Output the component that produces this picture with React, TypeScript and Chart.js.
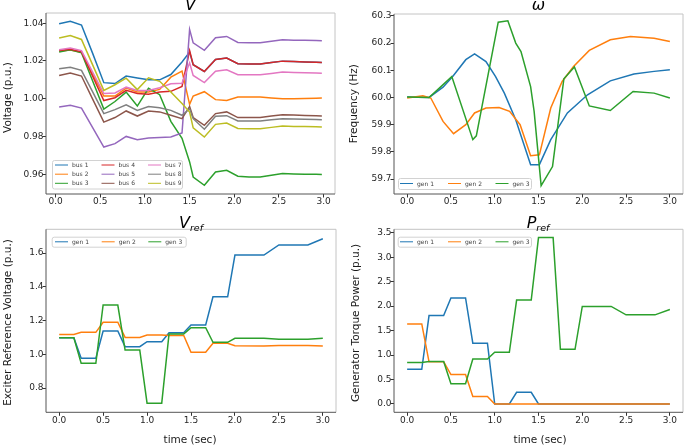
import React, { useEffect, useRef } from 'react';
import { Chart, registerables } from 'chart.js';

Chart.register(...registerables);

// ---------- data ----------
const voltTimes = [0.04, 0.165, 0.29, 0.415, 0.54, 0.665, 0.79, 0.915, 1.04, 1.165, 1.29, 1.415, 1.5, 1.54, 1.665, 1.79, 1.915, 2.04, 2.165, 2.29, 2.415, 2.54, 2.665, 2.79, 2.915, 2.98];
const bus1 = [1.0397, 1.041, 1.039, 1.024, 1.0085, 1.008, 1.012, 1.011, 1.01, 1.01, 1.0128, 1.0194, 1.0247, 1.018, 1.0144, 1.0208, 1.0215, 1.0185, 1.0184, 1.0184, 1.0192, 1.0199, 1.0197, 1.0195, 1.0193, 1.0192];
const bus2 = [1.0252, 1.0258, 1.0246, 1.013, 1.0014, 1.0014, 1.0056, 1.0035, 1.0035, 1.0049, 1.0114, 1.0146, 0.997, 1.0014, 1.0037, 0.9995, 0.9991, 1.0009, 1.0009, 1.0009, 1.0004, 1.0, 1.0, 1.0001, 1.0002, 1.0003];
const bus3 = [1.0247, 1.0259, 1.0243, 1.0094, 0.9945, 0.9985, 1.0035, 0.9961, 1.0055, 1.0021, 0.988, 0.979, 0.9665, 0.9585, 0.9541, 0.9612, 0.9621, 0.9589, 0.9585, 0.9585, 0.9594, 0.9603, 0.9601, 0.96, 0.9599, 0.9598];
const bus4 = [1.0255, 1.0262, 1.0248, 1.0119, 0.999, 1.0005, 1.0044, 1.0027, 1.0023, 1.0035, 1.0039, 1.0065, 1.0255, 1.018, 1.0144, 1.0208, 1.0215, 1.0185, 1.0184, 1.0184, 1.0192, 1.0199, 1.0197, 1.0195, 1.0193, 1.0192];
const bus5 = [0.9956, 0.9965, 0.995, 0.9847, 0.9744, 0.9762, 0.98, 0.9783, 0.9792, 0.9794, 0.9797, 0.9818, 1.0367, 1.0296, 1.0256, 1.0323, 1.033, 1.0298, 1.0296, 1.0296, 1.0304, 1.0312, 1.031, 1.0309, 1.0308, 1.0307];
const bus6 = [1.0123, 1.0136, 1.012, 0.9998, 0.9876, 0.99, 0.9935, 0.9908, 0.9935, 0.993, 0.9912, 0.9894, 0.9959, 0.99, 0.9859, 0.9921, 0.993, 0.99, 0.99, 0.99, 0.9908, 0.9915, 0.9913, 0.9911, 0.9909, 0.9908];
const bus7 = [1.0259, 1.0268, 1.0255, 1.0141, 1.0027, 1.003, 1.0061, 1.0044, 1.0044, 1.0058, 1.0079, 1.0082, 1.019, 1.0123, 1.0085, 1.0146, 1.0153, 1.0127, 1.0127, 1.0127, 1.0134, 1.0141, 1.0139, 1.0137, 1.0136, 1.0135];
const bus8 = [1.0159, 1.0167, 1.015, 1.0036, 0.9921, 0.9942, 0.9968, 0.9938, 0.9959, 0.9952, 0.9938, 0.9912, 0.9947, 0.9894, 0.9838, 0.9907, 0.991, 0.9882, 0.9882, 0.9882, 0.9888, 0.9894, 0.9892, 0.9891, 0.989, 0.9889];
const bus9 = [1.0321, 1.0335, 1.0314, 1.0179, 1.0044, 1.0074, 1.0109, 1.0048, 1.0111, 1.0092, 1.0035, 0.9974, 0.9929, 0.9845, 0.9797, 0.9864, 0.9871, 0.9842, 0.9841, 0.9841, 0.9848, 0.9855, 0.9853, 0.9852, 0.9851, 0.985];
const busLabels = ['bus 1', 'bus 2', 'bus 3', 'bus 4', 'bus 5', 'bus 6', 'bus 7', 'bus 8', 'bus 9'];

const gen1FreqTimes = [0, 0.25, 0.41, 0.52, 0.67, 0.77, 0.9, 1.01, 1.11, 1.24, 1.41, 1.51, 1.64, 1.83, 2.06, 2.32, 2.59, 2.82, 3.0];
const gen1Freq = [60.0015, 60.0, 60.038, 60.077, 60.139, 60.16, 60.132, 60.077, 60.016, 59.918, 59.753, 59.753, 59.845, 59.943, 60.01, 60.061, 60.086, 60.096, 60.102];
const gen2FreqTimes = [0, 0.18, 0.27, 0.41, 0.53, 0.67, 0.77, 0.9, 1.05, 1.17, 1.29, 1.41, 1.51, 1.64, 1.77, 1.9, 2.08, 2.32, 2.55, 2.82, 3.0];
const gen2Freq = [59.998, 60.006, 59.998, 59.912, 59.867, 59.9, 59.943, 59.961, 59.963, 59.949, 59.9, 59.786, 59.789, 59.961, 60.059, 60.114, 60.173, 60.212, 60.224, 60.218, 60.206];
const gen3FreqTimes = [0, 0.25, 0.42, 0.51, 0.75, 0.79, 1.04, 1.15, 1.24, 1.3, 1.41, 1.45, 1.53, 1.66, 1.79, 1.91, 2.08, 2.32, 2.58, 2.82, 3.0];
const gen3Freq = [60.002, 60.0, 60.05, 60.077, 59.845, 59.859, 60.277, 60.282, 60.2, 60.169, 60.04, 59.949, 59.676, 59.746, 60.069, 60.112, 59.969, 59.952, 60.022, 60.016, 59.998];
const genLabels = ['gen 1', 'gen 2', 'gen 3'];

const ctrlTimes = [0, 0.167, 0.25, 0.417, 0.5, 0.667, 0.75, 0.917, 1.0, 1.167, 1.25, 1.417, 1.5, 1.667, 1.75, 1.917, 2.0, 2.33, 2.5, 2.83, 3.0];
const vref1 = [1.098, 1.098, 0.976, 0.976, 1.138, 1.138, 1.045, 1.045, 1.075, 1.075, 1.128, 1.128, 1.174, 1.174, 1.341, 1.341, 1.588, 1.588, 1.648, 1.648, 1.685];
const vref2 = [1.118, 1.118, 1.13, 1.13, 1.19, 1.19, 1.1, 1.1, 1.114, 1.114, 1.112, 1.112, 1.012, 1.012, 1.065, 1.065, 1.051, 1.049, 1.052, 1.052, 1.049];
const vref3 = [1.098, 1.098, 0.947, 0.947, 1.292, 1.292, 1.025, 1.025, 0.71, 0.71, 1.12, 1.12, 1.158, 1.158, 1.071, 1.071, 1.095, 1.095, 1.089, 1.089, 1.095];
const pref1 = [0.71, 0.71, 1.807, 1.807, 2.166, 2.166, 1.242, 1.242, 0, 0, 0.24, 0.24, 0, 0, 0, 0, 0, 0, 0, 0, 0];
const pref2 = [1.635, 1.635, 0.861, 0.861, 0.6, 0.6, 0.151, 0.151, 0, 0, 0, 0, 0, 0, 0, 0, 0, 0, 0, 0, 0];
const pref3 = [0.849, 0.849, 0.87, 0.87, 0.414, 0.414, 0.917, 0.917, 1.056, 1.056, 2.124, 2.124, 3.4, 3.4, 1.118, 1.118, 1.994, 1.994, 1.822, 1.822, 1.932];

// ---------- styling ----------
const COLORS = ['#1f77b4', '#ff7f0e', '#2ca02c', '#d62728', '#9467bd', '#8c564b', '#e377c2', '#7f7f7f', '#bcbd22'];
const FONT = '"DejaVu Sans", "Liberation Sans", sans-serif';

const pts = (xs: number[], ys: number[]) => xs.map((x, i) => ({ x, y: ys[i] }));

const decorPlugin = {
  id: 'decor',
  afterDraw(chart: any, _args: any, o: any) {
    const ctx = chart.ctx as CanvasRenderingContext2D;
    const { left, right, top, bottom } = chart.chartArea;
    const ox = o.ox, oy = o.oy;
    ctx.save();
    // frame
    ctx.lineWidth = 1;
    ctx.strokeStyle = '#c4c4c4';
    ctx.beginPath();
    ctx.moveTo(left, top); ctx.lineTo(right, top); ctx.lineTo(right, bottom);
    ctx.stroke();
    ctx.strokeStyle = '#555';
    ctx.beginPath();
    ctx.moveTo(left, top); ctx.lineTo(left, bottom); ctx.lineTo(right, bottom);
    ctx.stroke();

    // title
    const t = o.title;
    const mainFont = `italic 16px ${FONT}`;
    const subFont = `italic 9.5px ${FONT}`;
    ctx.font = mainFont;
    const wm = ctx.measureText(t.main).width;
    ctx.font = subFont;
    const ws = t.sub ? ctx.measureText(t.sub).width : 0;
    const tx = t.cx - ox - (wm + ws) / 2;
    ctx.fillStyle = '#000';
    ctx.textAlign = 'left';
    ctx.textBaseline = 'alphabetic';
    ctx.font = mainFont;
    ctx.fillText(t.main, tx, t.base - oy);
    if (t.sub) {
      ctx.font = subFont;
      ctx.fillText(t.sub, tx + wm, t.base - oy + 2.5);
    }

    // y label
    const yl = o.ylabel;
    ctx.save();
    ctx.translate(yl.cx - ox, yl.cy - oy);
    ctx.rotate(-Math.PI / 2);
    ctx.font = `10.5px ${FONT}`;
    ctx.fillStyle = '#1a1a1a';
    ctx.textAlign = 'center';
    ctx.textBaseline = 'middle';
    ctx.fillText(yl.text, 0, 0);
    ctx.restore();

    // x label
    if (o.xlabel) {
      const xl = o.xlabel;
      ctx.font = `10.5px ${FONT}`;
      ctx.fillStyle = '#1a1a1a';
      ctx.textAlign = 'center';
      ctx.textBaseline = 'middle';
      ctx.fillText(xl.text, xl.cx - ox, xl.cy - oy);
    }

    // legend
    const lg = o.legend;
    const bx = lg.box[0] - ox, by = lg.box[1] - oy;
    const bw = lg.box[2] - lg.box[0], bh = lg.box[3] - lg.box[1];
    ctx.beginPath();
    if ((ctx as any).roundRect) (ctx as any).roundRect(bx + 0.5, by + 0.5, bw, bh, 2);
    else ctx.rect(bx + 0.5, by + 0.5, bw, bh);
    ctx.fillStyle = 'rgba(255,255,255,0.85)';
    ctx.fill();
    ctx.strokeStyle = '#d2d2d2';
    ctx.lineWidth = 1;
    ctx.stroke();
    const nRows = lg.rows.length;
    chart.data.datasets.forEach((d: any, i: number) => {
      const col = Math.floor(i / nRows);
      const row = i % nRows;
      const x = lg.cols[col] - ox;
      const y = lg.rows[row] - oy;
      ctx.strokeStyle = d.borderColor;
      ctx.lineWidth = 1;
      ctx.beginPath();
      ctx.moveTo(x, y); ctx.lineTo(x + 13, y);
      ctx.stroke();
      ctx.font = `6px ${FONT}`;
      ctx.fillStyle = '#444';
      ctx.textAlign = 'left';
      ctx.textBaseline = 'middle';
      ctx.fillText(d.label, x + 17, y + 0.5);
    });
    ctx.restore();
  },
};

type Spec = {
  ox: number; oy: number; w: number; h: number;
  area: [number, number, number, number]; // L, T, R, B in page coords
  xmin: number; xmax: number; ymin: number; ymax: number;
  ystep: number; ydec: number;
  datasets: { label: string; data: { x: number; y: number }[] }[];
  decor: any;
};

const Y_W = 40;
const X_H = 14;

function buildConfig(s: Spec): any {
  const [L, T, R, B] = s.area;
  const tickFont = { family: FONT, size: 9 };
  return {
    type: 'line',
    data: {
      datasets: s.datasets.map((d, i) => ({
        label: d.label,
        data: d.data,
        borderColor: COLORS[i],
        backgroundColor: COLORS[i],
        borderWidth: 1.5,
        pointRadius: 0,
        tension: 0,
        fill: false,
        order: -i,
      })),
    },
    options: {
      responsive: false,
      animation: false,
      devicePixelRatio: 1,
      events: [],
      layout: {
        padding: {
          left: L - s.ox - Y_W,
          top: T - s.oy,
          right: s.ox + s.w - R,
          bottom: s.oy + s.h - B - X_H,
        },
      },
      plugins: {
        legend: { display: false },
        title: { display: false },
        tooltip: { enabled: false },
        decor: { ...s.decor, ox: s.ox, oy: s.oy },
      },
      scales: {
        x: {
          type: 'linear',
          min: s.xmin,
          max: s.xmax,
          afterFit: (sc: any) => { sc.height = X_H; sc.paddingLeft = 0; sc.paddingRight = 0; },
          border: { display: false },
          grid: { drawOnChartArea: false, drawTicks: true, tickLength: 3.5, tickColor: '#333', lineWidth: 1 },
          ticks: {
            stepSize: 0.5,
            includeBounds: false,
            autoSkip: false,
            maxRotation: 0,
            padding: -1,
            color: '#262626',
            font: tickFont,
            callback: (v: number) => Number(v).toFixed(1),
          },
        },
        y: {
          type: 'linear',
          min: s.ymin,
          max: s.ymax,
          afterFit: (sc: any) => { sc.width = Y_W; sc.paddingTop = 0; sc.paddingBottom = 0; },
          border: { display: false },
          grid: { drawOnChartArea: false, drawTicks: true, tickLength: 3.5, tickColor: '#333', lineWidth: 1 },
          ticks: {
            stepSize: s.ystep,
            includeBounds: false,
            autoSkip: false,
            padding: -1,
            color: '#262626',
            font: tickFont,
            callback: (v: number) => Number(v).toFixed(s.ydec),
          },
        },
      },
    },
    plugins: [decorPlugin],
  };
}

const busSeries = [bus1, bus2, bus3, bus4, bus5, bus6, bus7, bus8, bus9];

const specs: Spec[] = [
  {
    ox: 0, oy: 0, w: 342, h: 215,
    area: [46, 13, 335, 194],
    xmin: -0.107, xmax: 3.127, ymin: 0.9495, ymax: 1.0454, ystep: 0.02, ydec: 2,
    datasets: busSeries.map((s, i) => ({ label: busLabels[i], data: pts(voltTimes, s) })),
    decor: {
      title: { main: 'V', sub: '', cx: 190.5, base: 10 },
      ylabel: { text: 'Voltage (p.u.)', cx: 8, cy: 97.5 },
      legend: { box: [52, 160, 182, 188.5], cols: [55, 101.5, 148], rows: [165, 174.2, 183.3] },
    },
  },
  {
    ox: 342, oy: 0, w: 343, h: 215,
    area: [394, 14, 683, 194],
    xmin: -0.15, xmax: 3.15, ymin: 59.645, ymax: 60.307, ystep: 0.1, ydec: 1,
    datasets: [
      { label: genLabels[0], data: pts(gen1FreqTimes, gen1Freq) },
      { label: genLabels[1], data: pts(gen2FreqTimes, gen2Freq) },
      { label: genLabels[2], data: pts(gen3FreqTimes, gen3Freq) },
    ],
    decor: {
      title: { main: '\u03c9', sub: '', cx: 538.5, base: 10 },
      ylabel: { text: 'Frequency (Hz)', cx: 354.5, cy: 103.7 },
      legend: { box: [398, 178, 531, 189], cols: [400, 448, 495.5], rows: [183.5] },
    },
  },
  {
    ox: 0, oy: 215, w: 342, h: 232,
    area: [46, 229.3, 336, 412.3],
    xmin: -0.15, xmax: 3.15, ymin: 0.656, ymax: 1.741, ystep: 0.2, ydec: 1,
    datasets: [
      { label: genLabels[0], data: pts(ctrlTimes, vref1) },
      { label: genLabels[1], data: pts(ctrlTimes, vref2) },
      { label: genLabels[2], data: pts(ctrlTimes, vref3) },
    ],
    decor: {
      title: { main: 'V', sub: 'ref', cx: 191, base: 228.3 },
      ylabel: { text: 'Exciter Reference Voltage (p.u.)', cx: 8, cy: 322.5 },
      xlabel: { text: 'time (sec)', cx: 190, cy: 440.5 },
      legend: { box: [51.7, 236.7, 185.7, 246.7], cols: [55, 101.7, 148.3], rows: [241.8] },
    },
  },
  {
    ox: 342, oy: 215, w: 343, h: 232,
    area: [394, 229.3, 683, 412.3],
    xmin: -0.15, xmax: 3.15, ymin: -0.17, ymax: 3.57, ystep: 0.5, ydec: 1,
    datasets: [
      { label: genLabels[0], data: pts(ctrlTimes, pref1) },
      { label: genLabels[1], data: pts(ctrlTimes, pref2) },
      { label: genLabels[2], data: pts(ctrlTimes, pref3) },
    ],
    decor: {
      title: { main: 'P', sub: 'ref', cx: 538, base: 228.3 },
      ylabel: { text: 'Generator Torque Power (p.u.)', cx: 356, cy: 323 },
      xlabel: { text: 'time (sec)', cx: 540, cy: 440.5 },
      legend: { box: [397.7, 236.7, 531, 246.7], cols: [400, 448, 495.5], rows: [241.8] },
    },
  },
];

function Panel({ spec }: { spec: Spec }) {
  const ref = useRef<HTMLCanvasElement>(null);
  useEffect(() => {
    if (!ref.current) return;
    const chart = new Chart(ref.current, buildConfig(spec));
    return () => chart.destroy();
  }, [spec]);
  return (
    <canvas
      ref={ref}
      width={spec.w}
      height={spec.h}
      style={{ position: 'absolute', left: spec.ox, top: spec.oy, width: spec.w, height: spec.h }}
    />
  );
}

export default function App() {
  return (
    <div style={{ position: 'absolute', left: 0, top: 0, width: 685, height: 447, background: '#fff', overflow: 'hidden' }}>
      {specs.map((s, i) => (
        <Panel key={i} spec={s} />
      ))}
    </div>
  );
}
